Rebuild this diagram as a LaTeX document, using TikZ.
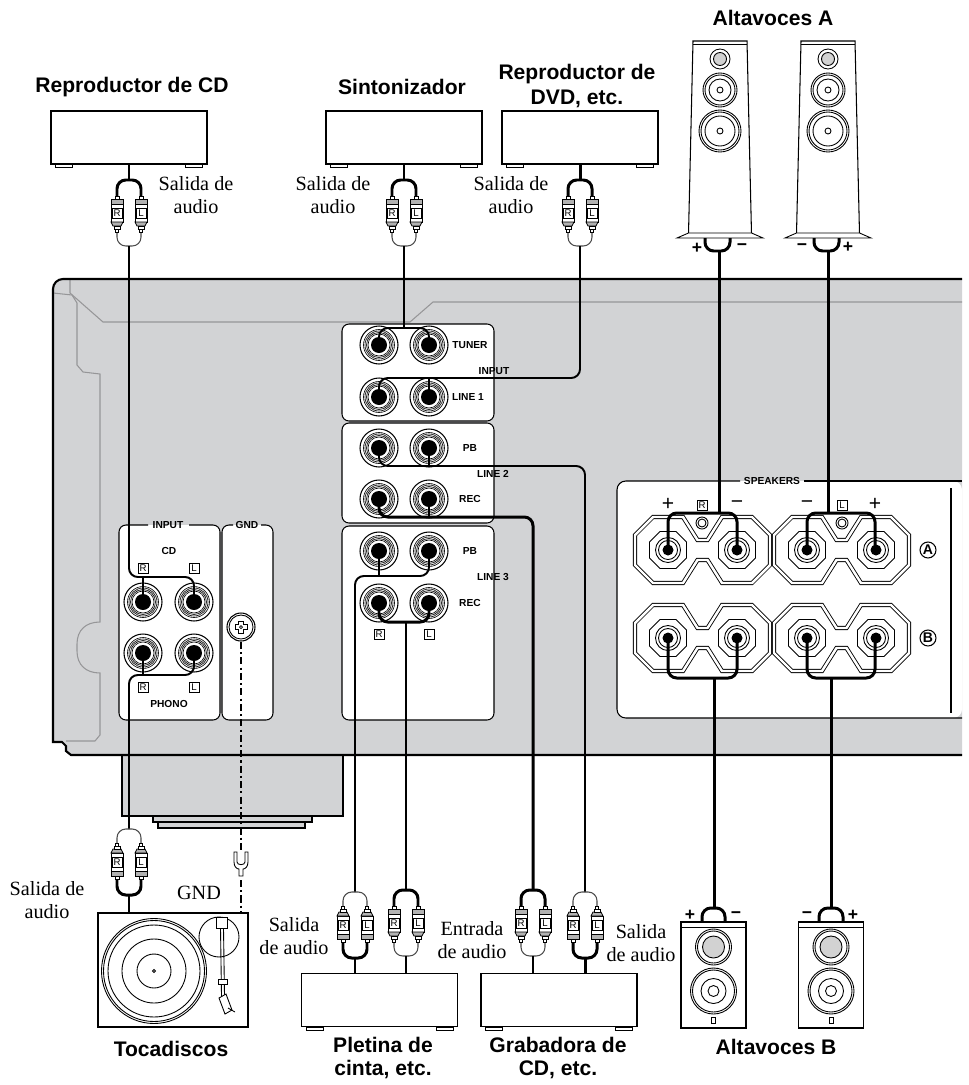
\documentclass[tikz,border=0pt]{standalone}
\usepackage{fontspec}
\setmainfont{Liberation Serif}
\setsansfont{Liberation Sans}

\definecolor{chassis}{RGB}{210,211,213}
\definecolor{trimgray}{RGB}{150,150,152}

\newcommand\devfont{\sffamily\bfseries\fontsize{12}{14}\selectfont}
\newcommand\notefont{\rmfamily\fontsize{11.5}{13.4}\selectfont}
\newcommand\panelfont{\sffamily\bfseries\fontsize{5.8}{6.5}\selectfont}

\tikzset{
  devbox/.style={draw, fill=white, line width=0.6pt, minimum width=3.12cm, minimum height=1.06cm, inner sep=0pt},
  devname/.style={font=\devfont, align=center},
  note/.style={font=\notefont, align=center},
  paneltext/.style={font=\panelfont, inner sep=1pt},
  tag/.style={draw, line width=0.4pt, font=\sffamily\fontsize{5.5}{5.5}\selectfont, inner sep=0.4pt, minimum width=0.2cm, minimum height=0.2cm},
  sign/.style={font=\sffamily\bfseries\fontsize{10}{10}\selectfont, inner sep=0pt},
  leadwire/.style={line width=1.1pt},
  heavywire/.style={line width=1.7pt},
  thinlead/.style={line width=0.6pt, gray!60!black},
  panel/.style={line width=0.6pt, rounded corners=4},
}

% feet under a device box
\newcommand\devfeet[1]{%
  \draw[fill=white, line width=0.5pt] ([xshift=0.1cm]#1.south west) rectangle ++(17,3);
  \draw[fill=white, line width=0.5pt] ([xshift=-0.1cm]#1.south east) rectangle ++(-17,3);}

% one RCA plug, cable end at local y=16
\newcommand\rcaplug[2]{%
  \begin{scope}[shift={(#1,16)}]
    \draw[fill=white, line width=0.4pt] (-2,0) rectangle (2,3);
    \draw[fill=gray!60, line width=0.4pt] (-6,3) rectangle (6,8);
    \draw[fill=white, line width=0.4pt] (-6,8) rectangle (6,26);
    \draw[fill=gray!60, line width=0.4pt] (-6,26) -- (6,26) -- (4,30) -- (-4,30) -- cycle;
    \draw[fill=white, line width=0.4pt] (-3,30) rectangle (3,33);
    \draw[fill=white, line width=0.4pt] (-1.2,33) rectangle (1.2,36);
    \node[tag] at (0,17) {#2};
  \end{scope}}

% RCA pair: x, y of the heavy split, 1 = heavy side on top, -1 = below
\newcommand\rcaset[3]{%
  \begin{scope}[shift={(#1,#2)}, yscale=#3]
    \draw[heavywire, rounded corners=5] (-12,16) -- (-12,0) -- (12,0) -- (12,16);
    \draw[thinlead, rounded corners=5] (-12,52) -- (-12,66) -- (12,66) -- (12,52);
    \rcaplug{-12}{R}
    \rcaplug{12}{L}
  \end{scope}}

% pin jack
\newcommand\jack[2]{%
  \draw[fill=white, line width=0.6pt] (#1,#2) circle[radius=19];
  \draw[line width=0.35pt] (#1,#2) circle[radius=15.5] circle[radius=14] circle[radius=12.5] circle[radius=11];
  \fill (#1,#2) circle[radius=8];}

% pair of speaker terminals
\newcommand\sppair[2]{%
  \begin{scope}[shift={(#1,#2)}]
    \draw[line width=0.5pt, double, double distance=1.4pt] (-33,-15) -- (-15,-33) -- (15,-33) -- (29.5,-10) -- (39.5,-10) -- (54,-33) -- (84,-33) -- (102,-15) -- (102,15) -- (84,33) -- (54,33) -- (39.5,10) -- (29.5,10) -- (15,33) -- (-15,33) -- (-33,15) -- cycle;
    \foreach \tx in {0,69} {
      \draw[line width=0.5pt] ({\tx-18.5},-8) -- ({\tx-8},-18.5) -- ({\tx+8},-18.5) -- ({\tx+18.5},-8) -- ({\tx+18.5},8) -- ({\tx+8},18.5) -- ({\tx-8},18.5) -- ({\tx-18.5},8) -- cycle;
      \draw[line width=0.5pt] (\tx,0) circle[radius=12.5] circle[radius=9.5];
      \fill (\tx,0) circle[radius=5.5];
    }
  \end{scope}}

% floor standing speaker
\newcommand\tower[1]{%
  \begin{scope}[shift={(#1,0)}, line width=0.5pt]
    \draw[fill=white, line width=0.6pt] (-27,41) -- (27,41) -- (31.5,234) -- (-31.5,234) -- cycle;
    \draw (-27,44.5) -- (27,44.5);
    \draw[fill=white] (-43,238) -- (-31.5,233) -- (31.5,233) -- (43,238) -- cycle;
    \draw[fill=white] (0,59) circle[radius=10];
    \draw[fill=gray!35] (0,59) circle[radius=6.5];
    \draw[fill=white] (0,90) circle[radius=17];
    \draw (0,90) circle[radius=15] circle[radius=11] circle[radius=3];
    \draw[fill=white] (0,131) circle[radius=21];
    \draw (0,131) circle[radius=19] circle[radius=15] circle[radius=3];
  \end{scope}}

% bookshelf speaker
\newcommand\bookshelf[1]{%
  \begin{scope}[shift={(#1,0)}, line width=0.5pt]
    \draw[fill=white, line width=0.6pt] (-32.5,922) rectangle (32.5,1028);
    \draw (-32.5,927) -- (32.5,927);
    \draw (0,947) circle[radius=18] circle[radius=16];
    \draw[fill=gray!35] (0,947) circle[radius=11];
    \draw (0,991) circle[radius=23] circle[radius=21] circle[radius=12.5] circle[radius=5.5];
    \draw (-2,1017) rectangle (2,1023);
  \end{scope}}

\begin{document}
\begin{tikzpicture}[x=0.02cm, y=-0.02cm]
  \useasboundingbox (0,0) rectangle (968,1085);

  % sources
  \node[devname] (cdname) at (132,87) {Reproductor de CD};
  \node[devname] (tunername) at (402,87) {Sintonizador};
  \node[devname] (dvdname) at (577,86) {Reproductor de\\DVD, etc.};
  \node[devname] (spkaname) at (773,18) {Altavoces A};

  \node[devbox] (cd) at (129,137.5) {};
  \node[devbox] (tuner) at (404,137.5) {};
  \node[devbox] (dvd) at (580,137.5) {};
  \devfeet{cd}
  \devfeet{tuner}
  \devfeet{dvd}

  \node[note] (cdout) at (196,195) {Salida de\\audio};
  \node[note] (tunerout) at (333,195) {Salida de\\audio};
  \node[note] (dvdout) at (511,195) {Salida de\\audio};

  \tower{720}
  \tower{828}
  \node[sign] (ar1) at (697,248) {+};
  \node[sign] (ar2) at (742,247) {−};
  \node[sign] (al1) at (802,247) {−};
  \node[sign] (al2) at (848,247) {+};

  % amplifier rear panel
  \filldraw[fill=chassis, line width=0.9pt] (122,750) rectangle (343,816);
  \filldraw[fill=chassis, line width=0.9pt] (153,816) rectangle (312,822);
  \filldraw[fill=chassis, line width=0.9pt] (158,822) rectangle (305,828);
  \fill[chassis] (962,279) -- (63,279) arc[start angle=270, end angle=180, radius=10] -- (53,742) -- (62,742) -- (66,746) -- (66,751) -- (71,755) -- (962,755) -- cycle;
  \draw[trimgray, line width=0.6pt] (70,279) -- (70,293) -- (103,322) -- (410,322) -- (433,302) -- (962,302);
  \draw[trimgray, line width=0.6pt] (53,293) -- (72,295) -- (77,303) -- (77,365) -- (83,372) -- (100,374) -- (100,622) .. controls (86,622) and (77,630) .. (77,644) -- (77,651) .. controls (77,665) and (86,673) .. (100,673) -- (100,735) -- (95,741) -- (66,741);
  \draw[line width=1.2pt] (962,279) -- (63,279) arc[start angle=270, end angle=180, radius=10] -- (53,742) -- (62,742) -- (66,746) -- (66,751) -- (71,755) -- (962,755);

  % INPUT / GND panels
  \fill[white, rounded corners=4] (119,525) rectangle (220,720);
  \draw[panel] (148,525) -- (119,525) -- (119,720) -- (220,720) -- (220,525) -- (189,525);
  \fill[white, rounded corners=4] (222,525) rectangle (273,720);
  \draw[panel] (233,525) -- (222,525) -- (222,720) -- (273,720) -- (273,525) -- (261,525);
  \node[paneltext] (inputcd) at (168,525) {INPUT};
  \node[paneltext] (gndtext) at (247,525) {GND};
  \node[paneltext] (cdtext) at (169,551) {CD};
  \node[paneltext] (phonotext) at (169,704) {PHONO};
  \node[tag] (cdr) at (143,568) {R};
  \node[tag] (cdl) at (194,568) {L};
  \node[tag] (phr) at (143,687) {R};
  \node[tag] (phl) at (194,687) {L};
  \foreach \jx in {143,194} {
    \foreach \jy in {602,653} {
      \jack{\jx}{\jy}
    }
  }
  \draw[fill=white, line width=0.6pt] (241,627) circle[radius=14];
  \draw[line width=0.5pt] (241,627) circle[radius=12];
  \draw[line width=0.5pt] (238.5,621) -- (243.5,621) -- (243.5,624.5) -- (247,624.5) -- (247,629.5) -- (243.5,629.5) -- (243.5,633) -- (238.5,633) -- (238.5,629.5) -- (235,629.5) -- (235,624.5) -- (238.5,624.5) -- cycle;
  \draw[line width=0.4pt] (241,627) circle[radius=1.5];

  % INPUT / LINE panels
  \filldraw[fill=white, panel] (342,324) rectangle (494,421);
  \filldraw[fill=white, panel] (342,423) rectangle (494,523);
  \filldraw[fill=white, panel] (342,526) rectangle (494,720);
  \foreach \jx in {379,429} {
    \foreach \jy in {345,397,448,499,551,603} {
      \jack{\jx}{\jy}
    }
  }
  \node[paneltext] (tunertext) at (470,345) {TUNER};
  \node[paneltext] (inputtext) at (494,371) {INPUT};
  \node[paneltext] (line1text) at (468,397) {LINE 1};
  \node[paneltext] (pb2text) at (470,448) {PB};
  \node[paneltext] (line2text) at (493,474) {LINE 2};
  \node[paneltext] (rec2text) at (470,499) {REC};
  \node[paneltext] (pb3text) at (470,551) {PB};
  \node[paneltext] (line3text) at (493,577) {LINE 3};
  \node[paneltext] (rec3text) at (470,603) {REC};
  \node[tag] (liner) at (379,634) {R};
  \node[tag] (linel) at (429,634) {L};

  % SPEAKERS panel
  \fill[white, rounded corners=5] (962,481) -- (617,481) -- (617,718) -- (962,718) -- cycle;
  \draw[line width=0.6pt, rounded corners=5] (740,481) -- (617,481) -- (617,718) -- (962,718);
  \draw[line width=0.6pt] (804,481) -- (962,481);
  \draw[line width=0.6pt] (951,488) -- (951,713);
  \node[paneltext] (spktext) at (772,481) {SPEAKERS};
  \sppair{668}{550}
  \sppair{807}{550}
  \sppair{668}{638}
  \sppair{807}{638}
  \node[font=\sffamily\fontsize{12}{12}\selectfont, inner sep=0pt] (tp1) at (668,504) {+};
  \node[font=\sffamily\fontsize{12}{12}\selectfont, inner sep=0pt] (tm1) at (737,505) {−};
  \node[font=\sffamily\fontsize{12}{12}\selectfont, inner sep=0pt] (tm2) at (807,505) {−};
  \node[font=\sffamily\fontsize{12}{12}\selectfont, inner sep=0pt] (tp2) at (875,504) {+};
  \node[tag] (spkr) at (702,505) {R};
  \node[tag] (spkl) at (842,505) {L};
  \draw[line width=0.5pt] (702,523) circle[radius=6] circle[radius=4];
  \draw[line width=0.5pt] (842,523) circle[radius=6] circle[radius=4];
  \node[circle, draw, line width=0.6pt, inner sep=0pt, minimum size=0.32cm, font=\sffamily\bfseries\fontsize{8}{8}\selectfont] (rowa) at (928,550) {A};
  \node[circle, draw, line width=0.6pt, inner sep=0pt, minimum size=0.32cm, font=\sffamily\bfseries\fontsize{8}{8}\selectfont] (rowb) at (928,638) {B};

  % cables from the sources
  \draw[heavywire] (cd.south) -- (129,180);
  \rcaset{129}{180}{1}
  \draw[leadwire, rounded corners=5] (129,246) -- (129,577) -- (194,577) -- (194,602);
  \draw[leadwire] (143,577) -- (143,602);

  \draw[heavywire] (tuner.south) -- (404,180);
  \rcaset{404}{180}{1}
  \draw[leadwire, rounded corners=5] (379,345) -- (379,328) -- (429,328) -- (429,345);
  \draw[leadwire] (404,246) -- (404,328);

  \draw[heavywire] (dvd.south) -- (580,180);
  \rcaset{580}{180}{1}
  \draw[leadwire, rounded corners=5] (379,397) -- (379,378) -- (580,378) -- (580,246);
  \draw[leadwire] (429,378) -- (429,397);

  % cables to tape deck and CD recorder
  \draw[leadwire, rounded corners=5] (379,448) -- (379,466) -- (585,466) -- (585,892);
  \draw[leadwire] (429,448) -- (429,466);
  \draw[heavywire, rounded corners=5] (379,499) -- (379,517) -- (533,517) -- (533,890);
  \draw[heavywire] (429,499) -- (429,517);
  \draw[leadwire, rounded corners=5] (429,551) -- (429,576) -- (355,576) -- (355,892);
  \draw[leadwire] (379,551) -- (379,576);
  \draw[heavywire, rounded corners=5] (379,603) -- (379,622) -- (429,622) -- (429,603);
  \draw[heavywire] (406,622) -- (406,890);

  % phono and ground
  \draw[leadwire, rounded corners=5] (194,653) -- (194,675) -- (129,675) -- (129,829);
  \draw[leadwire] (143,653) -- (143,675);
  \draw[line width=1.6pt, dash pattern=on 4pt off 1.8pt on 1.2pt off 1.8pt] (241,642) -- (241,852);
  \draw[fill=white, line width=0.5pt] (234,852) -- (234,862) .. controls (234,867) and (237,869) .. (239,869) -- (239,876) -- (243,876) -- (243,869) .. controls (245,869) and (248,867) .. (248,862) -- (248,852) -- (245,852) -- (245,862) .. controls (245,865.5) and (237,865.5) .. (237,862) -- (237,852) -- cycle;
  \draw[line width=1.6pt, dash pattern=on 4pt off 1.8pt on 1.2pt off 1.8pt] (241,880) -- (241,913);

  % speaker cables
  \draw[heavywire, rounded corners=5] (705,238) -- (705,251) -- (730,251) -- (730,238);
  \draw[heavywire, rounded corners=5] (814,238) -- (814,251) -- (839,251) -- (839,238);
  \draw[heavywire, rounded corners=5] (668,550) -- (668,513) -- (737,513) -- (737,550);
  \draw[heavywire] (719,251) -- (719,513);
  \draw[heavywire, rounded corners=5] (807,550) -- (807,513) -- (875,513) -- (875,550);
  \draw[heavywire] (828,251) -- (828,513);
  \draw[heavywire, rounded corners=5] (668,638) -- (668,678) -- (737,678) -- (737,638);
  \draw[heavywire] (714,678) -- (714,908);
  \draw[heavywire, rounded corners=5] (807,638) -- (807,678) -- (875,678) -- (875,638);
  \draw[heavywire] (831,678) -- (831,908);
  \draw[heavywire, rounded corners=5] (702,922) -- (702,908) -- (725,908) -- (725,922);
  \draw[heavywire, rounded corners=5] (819,922) -- (819,908) -- (843,908) -- (843,922);

  % turntable
  \node[draw, fill=white, line width=0.6pt, minimum width=3cm, minimum height=2.28cm, inner sep=0pt] (tt) at (173,970) {};
  \draw[line width=0.5pt] (154,971) circle[radius=52.5] circle[radius=50.5] circle[radius=46] circle[radius=32] circle[radius=17] circle[radius=1.5];
  \draw[line width=0.5pt] (219,937) circle[radius=20];
  \draw[line width=0.5pt] (220.5,928) -- (221.5,996);
  \draw[line width=0.5pt] (223.5,928) -- (224.5,996);
  \draw[fill=white, line width=0.5pt] (216,917) rectangle (227,928);
  \draw[fill=white, line width=0.5pt] (218,979) rectangle (227,984);
  \draw[fill=white, line width=0.5pt] (219,998) -- (226,994) -- (232,1010) -- (225,1014) -- cycle;
  \draw[line width=0.5pt] (228,1008) -- (235,1012);
  \rcaset{129}{895}{-1}
  \draw[heavywire] (129,895) -- (129,913);
  \node[note] (ttout) at (47,900) {Salida de\\audio};
  \node[note] (gndname) at (199,893) {GND};
  \node[devname] (ttname) at (171,1049) {Tocadiscos};

  % tape deck
  \node[devbox] (deck) at (379.5,1000) {};
  \devfeet{deck}
  \rcaset{355}{958}{-1}
  \draw[heavywire] (355,958) -- (355,973);
  \rcaset{406}{890}{1}
  \draw[leadwire] (406,956) -- (406,973);
  \node[note, font=\rmfamily\fontsize{11.5}{13}\selectfont] (deckout) at (294,936) {Salida\\de audio};
  \node[note, font=\rmfamily\fontsize{11.5}{13}\selectfont] (deckin) at (472,940) {Entrada\\de audio};
  \node[devname, font=\sffamily\bfseries\fontsize{12}{13}\selectfont] (deckname) at (383,1058) {Pletina de\\cinta, etc.};

  % CD recorder
  \node[devbox] (cdrec) at (559,1000) {};
  \devfeet{cdrec}
  \rcaset{533}{890}{1}
  \draw[leadwire] (533,956) -- (533,973);
  \rcaset{585}{958}{-1}
  \draw[heavywire] (585,958) -- (585,973);
  \node[note, font=\rmfamily\fontsize{11.5}{13}\selectfont] (cdrecout) at (641,943) {Salida\\de audio};
  \node[devname, font=\sffamily\bfseries\fontsize{12}{13}\selectfont] (cdrecname) at (558,1058) {Grabadora de\\CD, etc.};

  % speakers B
  \bookshelf{713.5}
  \bookshelf{831}
  \node[sign] (br1) at (690,915) {+};
  \node[sign] (br2) at (736,915) {−};
  \node[sign] (bl1) at (807,915) {−};
  \node[sign] (bl2) at (853,915) {+};
  \node[devname] (spkbname) at (776,1047) {Altavoces B};
\end{tikzpicture}
\end{document}
